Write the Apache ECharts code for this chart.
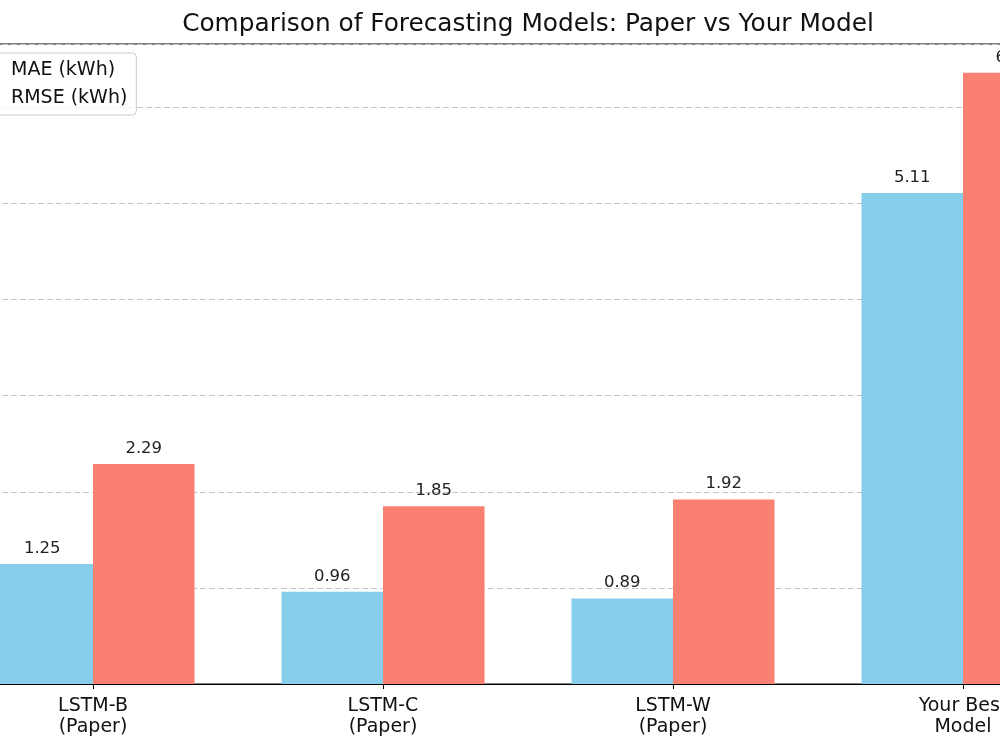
<!DOCTYPE html>
<html>
<head>
<meta charset="utf-8">
<script src="https://cdn.jsdelivr.net/npm/echarts@6/dist/echarts.min.js"></script>
<style>
  html, body { margin: 0; padding: 0; width: 1000px; height: 750px; overflow: hidden; background: #fff; position: relative; }
  #chart { position: absolute; left: -122px; top: 0; width: 1300px; height: 750px; }
</style>
</head>
<body>
<div id="chart"></div>
<script>
const categories = ['LSTM-B\n(Paper)', 'LSTM-C\n(Paper)', 'LSTM-W\n(Paper)', 'Your Best\nModel'];
const maeValues = [1.25, 0.96, 0.89, 5.11];
const rmseValues = [2.29, 1.85, 1.92, 6.36];
const seriesNames = ['MAE (kWh)', 'RMSE (kWh)'];
const titleText = 'Comparison of Forecasting Models: Paper vs Your Model';

const FONT = 'DejaVu Sans';
const chart = echarts.init(document.getElementById('chart'), null, { renderer: 'canvas' });

const labelCfg = {
  show: true,
  position: 'top',
  distance: 7,
  color: '#222',
  fontFamily: FONT,
  fontSize: 16.5,
  formatter: p => p.value.toFixed(2)
};

chart.setOption({
  animation: false,
  backgroundColor: '#fff',
  textStyle: { fontFamily: FONT },
  title: {
    text: titleText,
    left: 'center',
    top: 12,
    padding: 0,
    textStyle: { fontFamily: FONT, fontSize: 24.8, fontWeight: 'normal', color: '#111' }
  },
  legend: {
    orient: 'vertical',
    left: 78,
    top: 53,
    padding: [7, 9, 6, 8],
    itemWidth: 28,
    itemHeight: 13,
    itemGap: 7,
    icon: 'rect',
    backgroundColor: 'rgba(255,255,255,0.8)',
    borderColor: '#cccccc',
    borderWidth: 1,
    borderRadius: 4,
    textStyle: { fontFamily: FONT, fontSize: 19, color: '#111', lineHeight: 21, padding: [0, 0, 0, 14] },
    data: seriesNames
  },
  grid: {
    left: 70,
    top: 44,
    width: 1160,
    height: 640,
    show: true,
    borderColor: '#000',
    borderWidth: 1.2,
    containLabel: false
  },
  xAxis: {
    type: 'category',
    data: categories,
    boundaryGap: true,
    axisLine: { show: true, lineStyle: { color: '#000', width: 1.2 } },
    axisTick: { show: true, alignWithLabel: true, length: 5, lineStyle: { color: '#000', width: 1 } },
    axisLabel: { fontFamily: FONT, fontSize: 19, color: '#111', lineHeight: 21, margin: 12 },
    splitLine: { show: false }
  },
  yAxis: {
    type: 'value',
    min: 0,
    max: 6.66,
    interval: 1,
    axisLine: { show: false },
    axisTick: { show: false },
    axisLabel: { show: false },
    splitLine: { show: true, lineStyle: { color: '#c4c4c4', type: [6, 3], width: 1 } }
  },
  series: [
    {
      name: seriesNames[0],
      type: 'bar',
      data: maeValues,
      barWidth: 101.5,
      barGap: '0%',
      itemStyle: { color: '#87CEEB' },
      label: labelCfg
    },
    {
      name: seriesNames[1],
      type: 'bar',
      data: rmseValues,
      barWidth: 101.5,
      barGap: '0%',
      itemStyle: { color: '#FA8072' },
      label: labelCfg
    }
  ]
});
</script>
</body>
</html>
